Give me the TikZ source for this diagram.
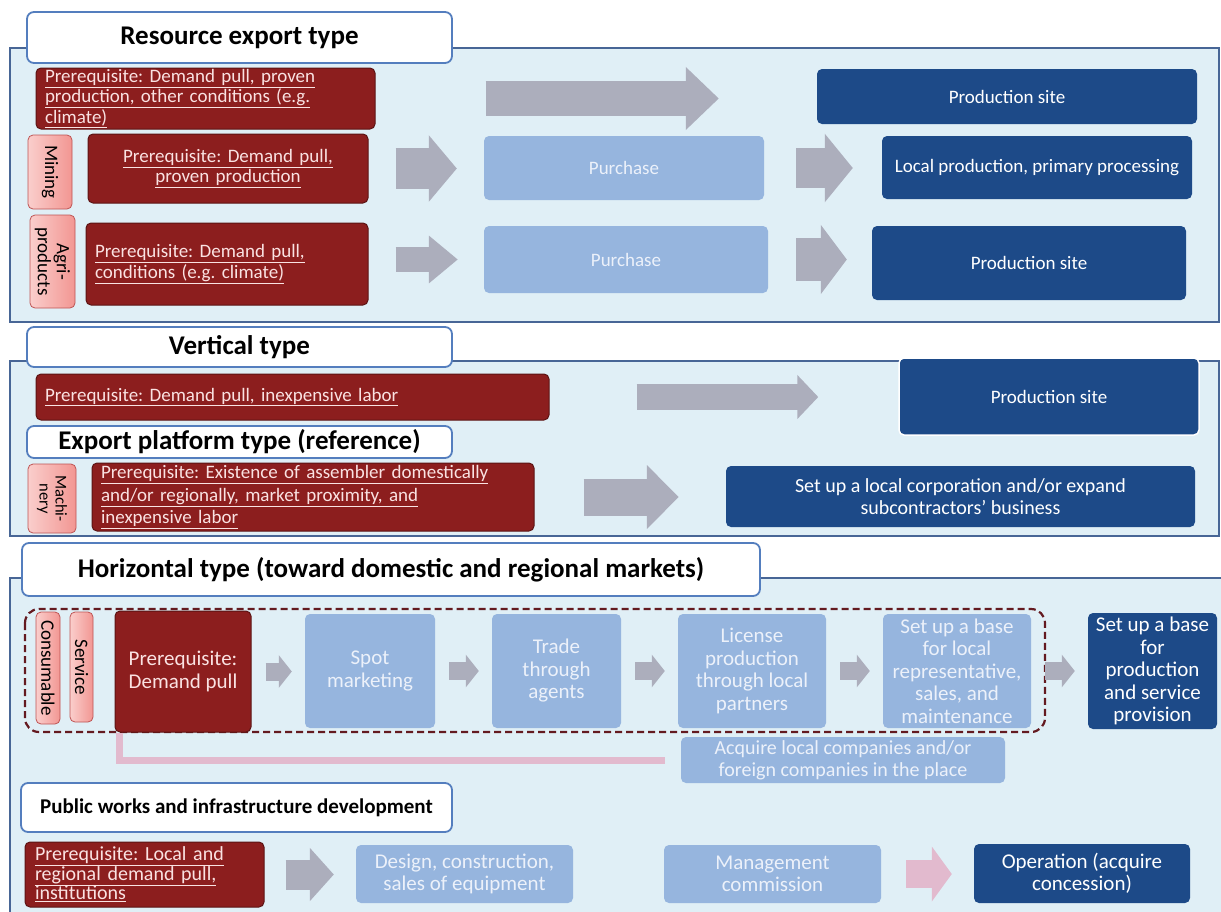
\documentclass[tikz,border=0pt]{standalone}
\usepackage{fontspec}
\setmainfont{Carlito}
\usetikzlibrary{arrows.meta}
\frenchspacing

\definecolor{panelfill}{RGB}{224,239,246}
\definecolor{panelline}{RGB}{72,102,150}
\definecolor{tabline}{RGB}{84,126,190}
\definecolor{prereqfill}{RGB}{140,30,30}
\definecolor{prereqline}{RGB}{92,20,20}
\definecolor{prereqtext}{RGB}{250,226,226}
\definecolor{sidelight}{RGB}{250,206,204}
\definecolor{sidedark}{RGB}{242,150,146}
\definecolor{sideline}{RGB}{190,84,84}
\definecolor{stepfill}{RGB}{150,181,222}
\definecolor{steptext}{RGB}{236,241,250}
\definecolor{sitefill}{RGB}{29,74,136}
\definecolor{arrowgray}{RGB}{172,174,188}
\definecolor{arrowpink}{RGB}{226,186,206}
\definecolor{framered}{RGB}{100,26,32}

\tikzset{
  panel/.style={draw=panelline, fill=panelfill, line width=1.8pt},
  typetab/.style={draw=tabline, fill=white, rounded corners=7pt, line width=1.8pt,
    inner sep=0pt, font=\fontsize{27}{30}\selectfont\bfseries},
  prereq/.style={draw=prereqline, fill=prereqfill, rounded corners=5pt, line width=1pt,
    text=prereqtext, inner xsep=9pt, inner ysep=0pt, font=\fontsize{19}{20.5}\selectfont},
  sidetab/.style={draw=sideline, left color=sidelight, right color=sidedark, rounded corners=5pt, line width=0.8pt,
    rotate=-90, inner sep=0pt, align=center, font=\fontsize{19}{19}\selectfont},
  stepbox/.style={fill=stepfill, rounded corners=5pt, text=steptext, inner sep=0pt,
    align=center, font=\fontsize{19}{21}\selectfont},
  sitebox/.style={fill=sitefill, rounded corners=5pt, text=white, inner sep=0pt,
    align=center, font=\fontsize{19}{21}\selectfont},
  bigger/.style={font=\fontsize{21}{22.5}\selectfont},
  fatarrow/.style n args={3}{draw=arrowgray, line width=#1, -{Triangle[length=#2, width=#3]}},
  groupframe/.style={draw=framered, line width=2.2pt, dash pattern=on 7pt off 4pt, rounded corners=14pt},
  backline/.style={draw=arrowpink, line width=7pt}
}

\begin{document}
\begin{tikzpicture}[x=1pt, y=-1pt]
  \useasboundingbox (0,0) rectangle (1221,911);
  \fill[white] (0,0) rectangle (1221,911);

  % resource export type
  \draw[panel] (10,48) rectangle (1219,322);
  \node[typetab, minimum width=425pt, minimum height=51pt] (restab) at (239.5,37.5) {Resource export type};
  \node[prereq, text width=321pt, minimum height=61pt, align=left] (req1) at (205.5,98.5)
    {\underline{Prerequisite: Demand pull, proven}\\\underline{production, other conditions (e.g.}\\\underline{climate)}};
  \node[sitebox, minimum width=380pt, minimum height=55pt] (site1) at (1007,96.5) {Production site};
  \node[sidetab, minimum width=74pt, minimum height=44pt] (mining) at (50,172) {Mining};
  \node[prereq, text width=262pt, minimum height=69pt, align=center] (req2) at (228,168.5)
    {\underline{Prerequisite: Demand pull,}\\\underline{proven production}};
  \node[stepbox, minimum width=280pt, minimum height=64pt] (buy1) at (624,168) {Purchase};
  \node[sitebox, minimum width=310pt, minimum height=63pt] (local) at (1037,167.5) {Local production, primary processing};
  \node[sidetab, minimum width=93pt, minimum height=45pt] (agri) at (52.5,261.5) {Agri-\\products};
  \node[prereq, text width=264pt, minimum height=82pt, align=left] (req3) at (227,264)
    {\underline{Prerequisite: Demand pull,}\\\underline{conditions (e.g. climate)}};
  \node[stepbox, minimum width=284pt, minimum height=67pt] (buy2) at (626,259.5) {Purchase};
  \node[sitebox, minimum width=314pt, minimum height=74pt] (site2) at (1029,263) {Production site};

  \draw[fatarrow={35pt}{33pt}{61pt}] ([xshift=110pt]req1.east) -- ([xshift=-98pt]site1.west |- req1.east);
  \draw[fatarrow={41pt}{28pt}{65pt}] ([xshift=27pt]req2.east) -- ([xshift=-27pt]buy1.west |- req2.east);
  \draw[fatarrow={40pt}{28pt}{67pt}] ([xshift=32pt]buy1.east) -- ([xshift=-29pt]local.west |- buy1.east);
  \draw[fatarrow={25pt}{29pt}{46pt}] ([xshift=27pt]req3.east |- buy2.west) -- ([xshift=-26pt]buy2.west);
  \draw[fatarrow={43pt}{26pt}{68pt}] ([xshift=28pt]buy2.east) -- ([xshift=-25pt]site2.west |- buy2.east);

  % vertical type and export platform type
  \draw[panel] (10,361) rectangle (1219,536);
  \node[typetab, minimum width=425pt, minimum height=40pt] (verttab) at (239.5,347) {Vertical type};
  \node[prereq, text width=495pt, minimum height=46pt, align=left] (req4) at (292.5,397)
    {\underline{Prerequisite: Demand pull, inexpensive labor}};
  \node[sitebox, draw=white, line width=1.5pt, minimum width=300pt, minimum height=77pt] (site3) at (1049,396.5) {Production site};
  \node[typetab, minimum width=425pt, minimum height=32pt] (exptab) at (239.5,442) {Export platform type (reference)};
  \node[sidetab, minimum width=69pt, minimum height=48pt, font=\fontsize{16.5}{16}\selectfont] (machine) at (52,498.5) {Machi-\\nery};
  \node[prereq, text width=424pt, minimum height=68pt, align=left, font=\fontsize{19}{22.5}\selectfont] (req5) at (313,497)
    {\underline{Prerequisite: Existence of assembler domestically}\\\underline{and/or regionally, market proximity, and}\\\underline{inexpensive labor}};
  \node[sitebox, minimum width=469pt, minimum height=61pt, font=\fontsize{20}{22}\selectfont] (corp) at (960.5,496.5)
    {Set up a local corporation and/or expand\\subcontractors’ business};

  \draw[fatarrow={26pt}{21pt}{43pt}] ([xshift=87pt]req4.east) -- ([xshift=-80pt]site3.west |- req4.east);
  \draw[fatarrow={37pt}{32pt}{62pt}] ([xshift=49pt]req5.east) -- ([xshift=-47pt]corp.west |- req5.east);

  % horizontal type
  \draw[panel] (10,578) rectangle (1223,930);
  \node[typetab, minimum width=738pt, minimum height=53pt] (hortab) at (391,569.5) {Horizontal type (toward domestic and regional markets)};
  \draw[groupframe] (25,609) rectangle (1045,732);
  \node[sidetab, minimum width=112pt, minimum height=24pt] (consum) at (48,668) {Consumable};
  \node[sidetab, minimum width=110pt, minimum height=23pt] (service) at (81.5,667) {Service};
  \node[prereq, inner xsep=0pt, minimum width=136pt, minimum height=121pt, align=center, bigger] (demand) at (183,671.5)
    {Prerequisite:\\Demand pull};
  \node[stepbox, bigger, minimum width=130pt, minimum height=114pt] (spot) at (370,671) {Spot\\marketing};
  \node[stepbox, bigger, minimum width=129pt, minimum height=114pt] (trade) at (556.5,671) {Trade\\through\\agents};
  \node[stepbox, bigger, minimum width=148pt, minimum height=114pt] (license) at (752,671) {License\\production\\through local\\partners};
  \node[stepbox, bigger, minimum width=148pt, minimum height=114pt] (salesbase) at (957,671) {Set up a base\\for local\\representative,\\sales, and\\maintenance};
  \node[sitebox, bigger, minimum width=129pt, minimum height=116pt] (prodbase) at (1152.5,671) {Set up a base\\for\\production\\and service\\provision};
  \node[stepbox, bigger, font=\fontsize{20}{22}\selectfont, minimum width=324pt, minimum height=46pt] (acquire) at (843,760)
    {Acquire local companies and/or\\foreign companies in the place};

  \foreach \a/\b in {demand/spot, spot/trade, trade/license, license/salesbase, salesbase/prodbase}
    \draw[fatarrow={18pt}{13pt}{32pt}] ([xshift=14pt]\a.east) -- ([xshift=-13pt]\b.west |- \a.east);
  \draw[backline] ([xshift=5pt]demand.south west) |- ([xshift=-16pt]acquire.west);

  % public works
  \node[typetab, minimum width=431pt, minimum height=49pt, font=\fontsize{21}{23}\selectfont\bfseries] (pubtab) at (236.5,807.5)
    {Public works and infrastructure development};
  \node[prereq, text width=219pt, inner xsep=10pt, minimum height=65pt, align=left, font=\fontsize{20}{19.5}\selectfont] (req6) at (144.5,874.5)
    {\underline{Prerequisite: Local and}\\\underline{regional demand pull,}\\\underline{institutions}};
  \node[stepbox, bigger, minimum width=217pt, minimum height=58pt] (design) at (464.5,874) {Design, construction,\\sales of equipment};
  \node[stepbox, bigger, minimum width=217pt, minimum height=58pt] (manage) at (772.5,874) {Management\\commission};
  \node[sitebox, bigger, minimum width=216pt, minimum height=59pt] (operate) at (1082,873.5) {Operation (acquire\\concession)};

  \draw[fatarrow={30pt}{24pt}{52pt}] ([xshift=21pt]req6.east) -- ([xshift=-22pt]design.west |- req6.east);
  \draw[fatarrow={28pt}{20pt}{54pt}, draw=arrowpink] ([xshift=25pt]manage.east) -- ([xshift=-22pt]operate.west |- manage.east);
\end{tikzpicture}
\end{document}
